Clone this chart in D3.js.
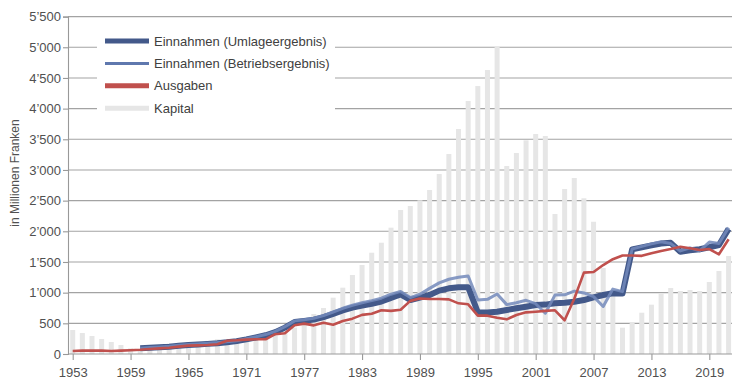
<!DOCTYPE html>
<html>
<head>
<meta charset="utf-8">
<script src="https://cdn.jsdelivr.net/npm/d3@7"></script>
<style>
  body { margin: 0; background: #fff; }
  svg { display: block; }
  text { font-family: "Liberation Sans", Arial, Helvetica, sans-serif; }
</style>
</head>
<body>
<svg id="chart" width="732" height="385"></svg>
<script>
// EO-Fonds: Einnahmen, Ausgaben und Kapital in Millionen Franken, 1953–2021
const firstYear = 1953;

const kapital = [
  391, 342, 293, 244, 196, 147, 92,
  80, 100, 125, 170, 180, 190, 200, 215, 240, 235,
  230, 228, 245, 265, 300, 380, 430, 500, 652, 750,
  918, 1081, 1288, 1451, 1651, 1814, 2059, 2347, 2412, 2505,
  2673, 2934, 3260, 3668, 4124, 4368, 4629, 5009, 3064, 3276,
  3483, 3586, 3553, 2282, 2690, 2869, 2538, 2156, 1402, 1020,
  429, 522, 673, 804, 989, 1076, 1027, 1043, 1027, 1174, 1353, 1597
];

const einnahmenUmlage = [
  null, null, null, null, null, null, null,
  92, 100, 110, 120, 135, 147, 155, 165, 175, 190,
  210, 238, 270, 305, 355, 430, 522, 540, 560, 600,
  655, 710, 755, 790, 820, 855, 915, 970, 880, 920,
  962, 1033, 1071, 1087, 1090, 680, 675, 690, 717, 745,
  771, 799, 805, 826, 836, 853, 880, 924, 962, 990,
  985, 1706, 1739, 1770, 1800, 1812, 1668, 1690, 1708, 1740, 1777, 2040
];

const einnahmenBetrieb = [
  null, null, null, null, null, null, null,
  95, 105, 116, 127, 142, 155, 164, 175, 186, 201,
  217, 248, 280, 317, 368, 445, 540, 560, 582, 625,
  685, 745, 795, 835, 870, 910, 975, 1020, 920, 975,
  1070, 1160, 1218, 1250, 1271, 880, 891, 978, 805, 836,
  875, 820, 665, 960, 965, 1025, 995, 935, 775, 1058,
  1016, 1712, 1755, 1795, 1830, 1800, 1680, 1730, 1680, 1825, 1800, 2060
];

const ausgaben = [
  50, 55, 55, 55, 50, 55, 62,
  70, 82, 92, 103, 120, 136, 141, 147, 158, 217,
  223, 235, 240, 240, 323, 337, 470, 495, 467, 510,
  478, 538, 576, 638, 657, 712, 703, 722, 866, 905,
  896, 896, 891, 826, 810, 625, 625, 592, 565, 636,
  679, 690, 703, 712, 550, 900, 1326, 1336, 1450, 1545,
  1606, 1606, 1600, 1641, 1679, 1711, 1749, 1723, 1695, 1711, 1625, 1870
];

const yTickValues = [0, 500, 1000, 1500, 2000, 2500, 3000, 3500, 4000, 4500, 5000, 5500];
const xTickValues = [1953, 1959, 1965, 1971, 1977, 1983, 1989, 1995, 2001, 2007, 2013, 2019];

const legendItems = [
  { label: "Einnahmen (Umlageergebnis)", color: "#43598a", width: 5 },
  { label: "Einnahmen (Betriebsergebnis)", color: "#5f78ae", width: 3 },
  { label: "Ausgaben", color: "#c0504d", width: 5 },
  { label: "Kapital", color: "#e6e6e6", width: 5 }
];

const years = kapital.map((_, i) => firstYear + i);

const svg = d3.select("#chart");
const plotLeft = 68, plotRight = 732, plotTop = 16.6, plotBottom = 354;

const x = d3.scaleLinear().domain([1953, 2021]).range([72.7, 728.6]);
const y = d3.scaleLinear().domain([0, 5500]).range([plotBottom, plotTop]);

const swiss = d3.formatLocale({ decimal: ".", thousands: "\u2019", grouping: [3], currency: ["", ""] });
const fmt = swiss.format(",");

// Gridlines
svg.append("g")
  .selectAll("line")
  .data(yTickValues.filter(d => d > 0))
  .join("line")
  .attr("x1", plotLeft).attr("x2", plotRight)
  .attr("y1", d => y(d)).attr("y2", d => y(d))
  .attr("stroke", "#a3a3a3")
  .attr("stroke-width", 1.1);

// Kapital bars
const barW = 5;
svg.append("g")
  .selectAll("rect")
  .data(years)
  .join("rect")
  .attr("x", (d) => x(d) - barW / 2)
  .attr("width", barW)
  .attr("y", (d, i) => y(kapital[i]))
  .attr("height", (d, i) => y(0) - y(kapital[i]))
  .attr("fill", "#e6e6e6");

// Lines
const lineGen = (series) => d3.line()
  .defined((d, i) => series[i] != null)
  .x(d => x(d))
  .y((d, i) => y(series[i]));

svg.append("path")
  .attr("d", lineGen(einnahmenUmlage)(years))
  .attr("fill", "none")
  .attr("stroke", "#43598a")
  .attr("stroke-width", 6)
  .attr("stroke-linejoin", "round");

svg.append("path")
  .attr("d", lineGen(einnahmenBetrieb)(years))
  .attr("fill", "none")
  .attr("stroke", "#7389bb")
  .attr("stroke-opacity", 0.85)
  .attr("stroke-width", 3)
  .attr("stroke-linejoin", "round");

svg.append("path")
  .attr("d", lineGen(ausgaben)(years))
  .attr("fill", "none")
  .attr("stroke", "#c0504d")
  .attr("stroke-width", 2.6)
  .attr("stroke-linejoin", "round");

// Y axis
const yAxis = svg.append("g")
  .attr("transform", `translate(${plotLeft},0)`)
  .call(d3.axisLeft(y).tickValues(yTickValues).tickSize(5).tickPadding(2).tickFormat(fmt));
yAxis.select(".domain").attr("stroke", "#999").attr("stroke-width", 1.1);
yAxis.selectAll(".tick line").attr("stroke", "#999").attr("stroke-width", 1.1);
yAxis.selectAll(".tick text")
  .attr("font-size", 13)
  .attr("fill", "#505050")
  .style("font-family", "'Liberation Sans', Arial, sans-serif");

// X axis
const xAxis = svg.append("g")
  .attr("transform", `translate(0,${plotBottom})`)
  .call(d3.axisBottom(x).tickValues(xTickValues).tickSize(6).tickPadding(8).tickFormat(d3.format("d")));
xAxis.select(".domain").remove();
xAxis.append("line")
  .attr("x1", plotLeft).attr("x2", plotRight)
  .attr("stroke", "#999").attr("stroke-width", 1.1);
xAxis.selectAll(".tick line").attr("stroke", "#999").attr("stroke-width", 1.1);
xAxis.selectAll(".tick text")
  .attr("font-size", 13)
  .attr("fill", "#505050")
  .style("font-family", "'Liberation Sans', Arial, sans-serif");

// Y title
svg.append("text")
  .attr("transform", "translate(19,173) rotate(-90)")
  .attr("text-anchor", "middle")
  .attr("font-size", 12)
  .attr("fill", "#505050")
  .text("in Millionen Franken");

// Legend
const legend = svg.append("g");
legend.append("rect")
  .attr("x", 97).attr("y", 27).attr("width", 238).attr("height", 90)
  .attr("fill", "#fff");
const rows = legend.selectAll("g.row")
  .data(legendItems)
  .join("g")
  .attr("class", "row")
  .attr("transform", (d, i) => `translate(0,${41 + i * 22.4})`);
rows.append("line")
  .attr("x1", 105).attr("x2", 149)
  .attr("stroke", d => d.color)
  .attr("stroke-width", d => d.width);
rows.append("text")
  .attr("x", 154)
  .attr("dy", "0.35em")
  .attr("font-size", 13)
  .attr("fill", "#404040")
  .text(d => d.label);
</script>
</body>
</html>
